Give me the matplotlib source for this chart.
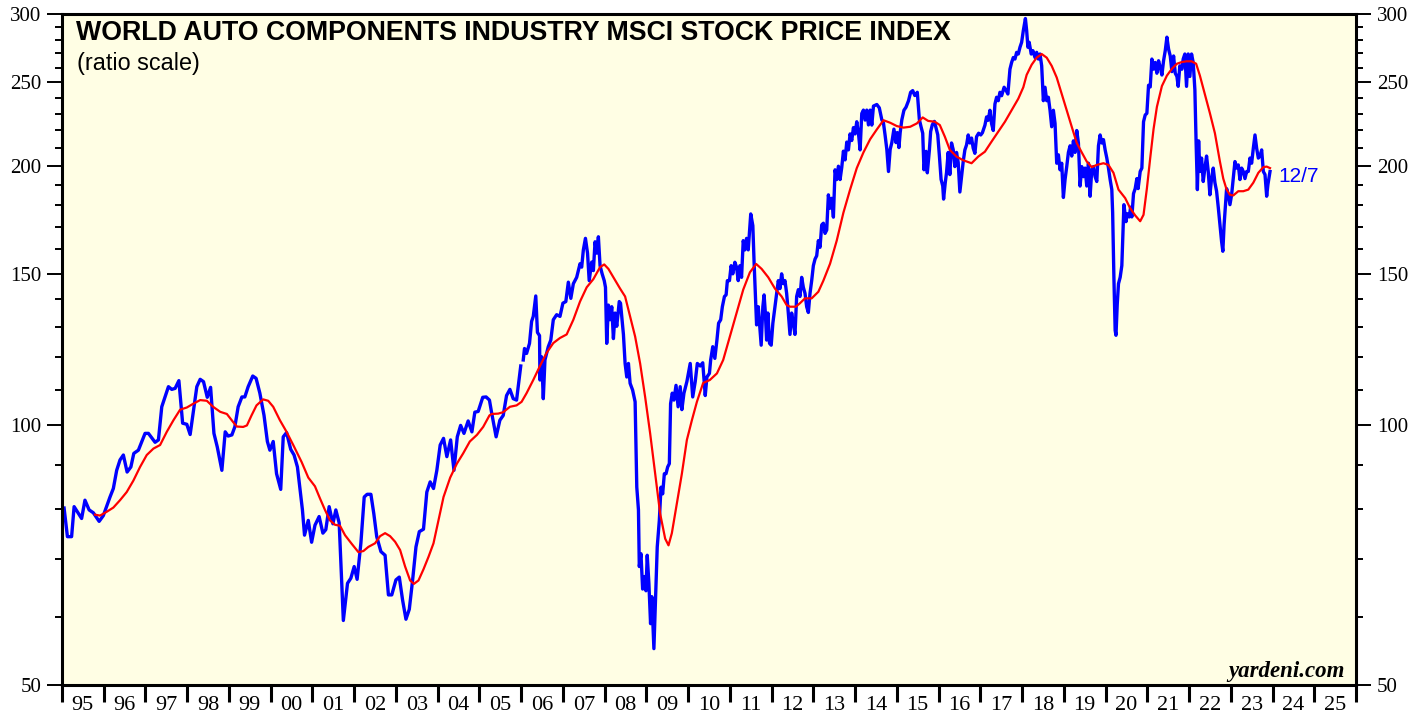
import matplotlib

matplotlib.use("Agg")
import matplotlib.pyplot as plt
import numpy as np
from matplotlib.ticker import FixedLocator, FixedFormatter, NullFormatter

# Indice MSCI (azul): mensual hasta 2005, semanal desde 2006 (hueco en el cambio)
BLUE_T = [
    1995.05, 1995.13, 1995.23, 1995.29, 1995.47, 1995.55, 1995.65, 1995.75, 1995.89, 1995.99,
    1996.15, 1996.23, 1996.31, 1996.39, 1996.47, 1996.56, 1996.65, 1996.72, 1996.83, 1996.99,
    1997.07, 1997.23, 1997.31, 1997.39, 1997.55, 1997.63, 1997.71, 1997.80, 1997.89, 1997.99,
    1998.07, 1998.23, 1998.31, 1998.39, 1998.48, 1998.56, 1998.64, 1998.72, 1998.83, 1998.91,
    1998.98, 1999.07, 1999.14, 1999.22, 1999.31, 1999.38, 1999.46, 1999.57, 1999.65, 1999.74,
    1999.84, 1999.92, 1999.98, 2000.06, 2000.14, 2000.24, 2000.30, 2000.38, 2000.48, 2000.56,
    2000.64, 2000.70, 2000.76, 2000.81, 2000.90, 2000.98, 2001.06, 2001.16, 2001.25, 2001.32,
    2001.40, 2001.49, 2001.56, 2001.64, 2001.74, 2001.84, 2001.92, 2002.00, 2002.07, 2002.16,
    2002.24, 2002.31, 2002.40, 2002.47, 2002.54, 2002.64, 2002.74, 2002.82, 2002.90, 2003.00,
    2003.08, 2003.16, 2003.24, 2003.32, 2003.40, 2003.48, 2003.56, 2003.66, 2003.74, 2003.82,
    2003.90, 2003.98, 2004.06, 2004.14, 2004.22, 2004.31, 2004.39, 2004.47, 2004.55, 2004.63,
    2004.73, 2004.82, 2004.89, 2004.97, 2005.08, 2005.16, 2005.24, 2005.29, 2005.40, 2005.49,
    2005.57, 2005.65, 2005.73, 2005.81, 2005.89, 2005.99, 2006.03,
    2006.05, 2006.08, 2006.13, 2006.20, 2006.25, 2006.29, 2006.35, 2006.39, 2006.44, 2006.45,
    2006.49, 2006.53, 2006.57, 2006.65, 2006.71, 2006.77, 2006.85, 2006.93, 2007.00, 2007.07,
    2007.13, 2007.19, 2007.25, 2007.33, 2007.41, 2007.45, 2007.49, 2007.54, 2007.59, 2007.63,
    2007.69, 2007.73, 2007.77, 2007.81, 2007.85, 2007.89, 2007.94, 2007.99, 2008.02, 2008.05,
    2008.09, 2008.13, 2008.17, 2008.21, 2008.25, 2008.29, 2008.35, 2008.38, 2008.45, 2008.49,
    2008.53, 2008.57, 2008.61, 2008.67, 2008.73, 2008.77, 2008.81, 2008.83, 2008.87, 2008.91,
    2008.95, 2008.99, 2009.02, 2009.06, 2009.10, 2009.13, 2009.18, 2009.22, 2009.26, 2009.31,
    2009.35, 2009.39, 2009.43, 2009.47, 2009.51, 2009.55, 2009.58, 2009.62, 2009.66, 2009.71,
    2009.76, 2009.81, 2009.85, 2009.90, 2009.97, 2010.05, 2010.11, 2010.17, 2010.22, 2010.29,
    2010.35, 2010.41, 2010.45, 2010.51, 2010.54, 2010.59, 2010.64, 2010.69, 2010.73, 2010.78,
    2010.82, 2010.87, 2010.91, 2010.94, 2010.99, 2011.03, 2011.07, 2011.12, 2011.16, 2011.20,
    2011.24, 2011.28, 2011.32, 2011.36, 2011.40, 2011.44, 2011.50, 2011.55, 2011.58, 2011.61,
    2011.64, 2011.68, 2011.72, 2011.75, 2011.79, 2011.82, 2011.85, 2011.88, 2011.91, 2011.95,
    2011.99, 2012.03, 2012.08, 2012.12, 2012.16, 2012.20, 2012.24, 2012.28, 2012.32, 2012.36,
    2012.40, 2012.44, 2012.48, 2012.52, 2012.56, 2012.60, 2012.64, 2012.68, 2012.72, 2012.76,
    2012.80, 2012.84, 2012.88, 2012.92, 2012.96, 2013.00, 2013.04, 2013.08, 2013.12, 2013.16,
    2013.20, 2013.24, 2013.28, 2013.32, 2013.36, 2013.40, 2013.44, 2013.48, 2013.52, 2013.56,
    2013.60, 2013.64, 2013.68, 2013.72, 2013.76, 2013.80, 2013.84, 2013.88, 2013.92, 2013.96,
    2014.00, 2014.04, 2014.08, 2014.12, 2014.16, 2014.20, 2014.24, 2014.28, 2014.32, 2014.36,
    2014.40, 2014.44, 2014.52, 2014.58, 2014.64, 2014.68, 2014.72, 2014.76, 2014.80, 2014.84,
    2014.88, 2014.93, 2014.98, 2015.01, 2015.05, 2015.08, 2015.12, 2015.17, 2015.22, 2015.28,
    2015.33, 2015.38, 2015.43, 2015.49, 2015.54, 2015.58, 2015.62, 2015.65, 2015.70, 2015.73,
    2015.78, 2015.81, 2015.85, 2015.90, 2015.94, 2015.98, 2016.02, 2016.06, 2016.10, 2016.12,
    2016.16, 2016.19, 2016.23, 2016.27, 2016.31, 2016.35, 2016.39, 2016.43, 2016.47, 2016.51,
    2016.56, 2016.59, 2016.63, 2016.67, 2016.71, 2016.75, 2016.79, 2016.83, 2016.87, 2016.91,
    2016.96, 2017.01, 2017.05, 2017.11, 2017.15, 2017.19, 2017.23, 2017.27, 2017.31, 2017.35,
    2017.39, 2017.43, 2017.47, 2017.51, 2017.57, 2017.62, 2017.66, 2017.71, 2017.75, 2017.79,
    2017.83, 2017.87, 2017.91, 2017.95, 2017.99, 2018.03, 2018.08, 2018.11, 2018.14, 2018.17,
    2018.22, 2018.26, 2018.31, 2018.35, 2018.39, 2018.43, 2018.47, 2018.51, 2018.55, 2018.59,
    2018.63, 2018.67, 2018.71, 2018.75, 2018.79, 2018.83, 2018.87, 2018.91, 2018.95, 2018.99,
    2019.03, 2019.07, 2019.11, 2019.15, 2019.19, 2019.23, 2019.27, 2019.31, 2019.35, 2019.39,
    2019.43, 2019.47, 2019.51, 2019.55, 2019.59, 2019.63, 2019.67, 2019.71, 2019.75, 2019.79,
    2019.83, 2019.87, 2019.91, 2019.95, 2019.99, 2020.03, 2020.07, 2020.11, 2020.15, 2020.17,
    2020.20, 2020.23, 2020.25, 2020.28, 2020.31, 2020.35, 2020.39, 2020.44, 2020.49, 2020.52,
    2020.57, 2020.60, 2020.63, 2020.67, 2020.71, 2020.75, 2020.78, 2020.83, 2020.87, 2020.91,
    2020.95, 2020.99, 2021.03, 2021.07, 2021.11, 2021.15, 2021.19, 2021.23, 2021.27, 2021.31,
    2021.35, 2021.39, 2021.43, 2021.47, 2021.51, 2021.55, 2021.59, 2021.63, 2021.67, 2021.71,
    2021.74, 2021.78, 2021.83, 2021.86, 2021.90, 2021.94, 2021.98, 2022.02, 2022.06, 2022.10,
    2022.14, 2022.17, 2022.20, 2022.23, 2022.26, 2022.30, 2022.34, 2022.38, 2022.42, 2022.46,
    2022.50, 2022.54, 2022.58, 2022.62, 2022.66, 2022.70, 2022.74, 2022.78, 2022.81, 2022.84,
    2022.87, 2022.90, 2022.94, 2022.98, 2023.02, 2023.06, 2023.10, 2023.14, 2023.18, 2023.22,
    2023.26, 2023.30, 2023.34, 2023.38, 2023.42, 2023.46, 2023.50, 2023.54, 2023.58, 2023.62,
    2023.66, 2023.70, 2023.74, 2023.78, 2023.82, 2023.86, 2023.89, 2023.94,
]
BLUE_V = [
    80.2, 74.3, 74.3, 80.5, 78.0, 81.9, 79.8, 79.2, 77.4, 78.6,
    82.6, 84.5, 88.7, 91.2, 92.4, 88.3, 89.5, 92.8, 93.6, 97.9,
    97.9, 95.6, 96.2, 105.1, 110.9, 110.1, 110.4, 112.7, 100.6, 100.3,
    97.6, 110.9, 113.1, 112.4, 107.8, 110.7, 97.9, 94.4, 88.7, 98.3,
    97.2, 97.5, 99.6, 105.1, 107.9, 107.9, 110.9, 114.1, 113.4, 109.0,
    102.7, 95.8, 93.6, 95.8, 87.9, 84.3, 97.0, 98.1, 93.8, 92.4,
    89.5, 84.5, 79.8, 74.6, 77.6, 73.2, 76.6, 78.4, 75.0, 75.7,
    80.5, 76.9, 79.8, 77.1, 59.4, 65.6, 66.5, 68.6, 66.3, 73.0,
    82.6, 83.2, 83.2, 79.0, 74.3, 71.4, 70.7, 63.6, 63.6, 66.2,
    66.7, 62.7, 59.6, 61.2, 66.2, 72.3, 75.3, 75.8, 83.7, 86.0,
    84.5, 88.7, 94.9, 96.6, 92.0, 96.2, 88.7, 97.0, 100.0, 97.9,
    101.2, 98.3, 103.6, 103.8, 107.8, 107.9, 107.0, 103.6, 97.0, 101.4,
    102.7, 108.3, 110.1, 107.4, 107.0, 117.2, np.nan,
    119.1, 122.8, 121.2, 124.5, 132.0, 133.8, 141.3, 128.2, 127.1, 112.9,
    120.1, 107.4, 119.1, 123.4, 125.6, 132.6, 134.4, 133.8, 138.6, 139.2,
    146.6, 140.4, 146.0, 148.5, 154.0, 152.6, 159.8, 164.8, 158.4, 147.2,
    154.7, 151.2, 163.3, 158.4, 165.5, 153.2, 149.9, 147.2, 144.6, 124.5,
    137.9, 132.6, 137.3, 126.1, 135.0, 130.3, 139.2, 138.6, 127.5, 118.0,
    113.8, 118.0, 111.9, 109.9, 106.5, 84.8, 79.8, 68.6, 71.0, 64.6,
    66.8, 64.3, 70.7, 65.6, 58.9, 63.3, 55.1, 63.3, 72.3, 77.6,
    84.8, 83.3, 87.9, 87.9, 89.5, 90.3, 106.0, 109.0, 107.0, 111.3,
    105.1, 110.9, 104.3, 109.0, 112.4, 118.0, 107.9, 112.4, 118.0, 117.2,
    118.2, 108.3, 113.8, 114.9, 119.1, 123.4, 119.6, 125.6, 131.4, 132.6,
    137.3, 141.1, 141.7, 147.2, 147.2, 153.2, 149.9, 154.6, 152.6, 147.2,
    153.2, 148.5, 163.8, 159.8, 164.8, 159.8, 175.9, 170.5, 154.7, 142.3,
    130.8, 137.3, 129.6, 123.9, 137.3, 141.7, 135.0, 125.6, 135.0, 124.5,
    123.9, 131.4, 137.3, 142.3, 147.2, 144.1, 149.9, 146.0, 147.2, 142.3,
    135.0, 127.5, 135.0, 131.4, 127.5, 141.1, 143.7, 141.1, 148.5, 144.6,
    142.3, 137.3, 135.2, 142.3, 147.2, 153.2, 155.9, 157.3, 163.8, 160.9,
    170.8, 171.6, 167.0, 168.5, 185.1, 178.6, 183.4, 174.4, 197.9, 192.8,
    199.8, 192.8, 199.1, 208.0, 203.2, 213.1, 208.7, 217.8, 214.0, 221.5,
    217.8, 225.0, 218.2, 208.7, 230.0, 232.1, 226.0, 232.1, 223.1, 232.1,
    223.0, 234.6, 235.6, 233.5, 226.2, 224.2, 216.8, 209.0, 197.0, 209.0,
    212.8, 220.6, 212.8, 218.6, 210.0, 218.6, 226.2, 232.0, 233.9, 238.0,
    243.4, 244.5, 241.3, 243.4, 226.2, 222.0, 218.2, 197.9, 207.9, 196.3,
    208.7, 219.2, 223.2, 225.2, 221.3, 217.3, 205.3, 192.9, 189.5, 183.0,
    191.2, 196.3, 207.3, 195.4, 212.6, 208.9, 199.6, 207.3, 201.8, 186.5,
    196.3, 202.3, 208.7, 211.5, 217.2, 212.6, 215.4, 209.6, 206.8, 216.2,
    218.2, 217.2, 218.5, 222.9, 227.9, 225.9, 232.0, 223.8, 219.8, 235.9,
    240.2, 238.0, 243.4, 241.2, 246.7, 244.5, 242.3, 258.9, 263.6, 267.1,
    266.0, 270.8, 269.6, 274.5, 278.2, 287.0, 296.4, 287.0, 274.5, 278.2,
    269.6, 272.0, 267.1, 270.8, 266.0, 269.6, 261.2, 238.0, 246.7, 238.0,
    240.2, 232.0, 222.0, 232.0, 224.0, 201.4, 206.0, 197.9, 201.4, 183.8,
    192.8, 199.6, 207.3, 211.0, 205.3, 213.8, 207.3, 219.8, 212.6, 189.5,
    199.6, 194.3, 198.8, 189.5, 201.4, 184.4, 197.9, 199.6, 194.3, 191.8,
    211.0, 217.2, 212.6, 214.5, 208.7, 204.2, 198.8, 192.8, 187.7, 176.5,
    148.5, 128.9, 127.2, 138.2, 146.0, 148.5, 153.2, 180.3, 172.3, 176.0,
    174.5, 179.1, 174.5, 185.7, 188.2, 193.3, 188.2, 197.0, 198.8, 225.0,
    229.1, 230.1, 248.0, 246.9, 266.0, 258.9, 263.6, 256.1, 264.8, 260.2,
    254.9, 264.8, 272.0, 282.0, 273.1, 268.2, 257.2, 268.2, 256.1, 253.9,
    247.3, 261.2, 258.9, 266.0, 269.6, 247.3, 269.6, 253.9, 269.6, 263.6,
    245.0, 212.4, 187.7, 213.8, 197.0, 204.2, 191.8, 198.8, 205.3, 197.0,
    185.1, 193.3, 198.8, 191.2, 186.9, 179.1, 170.8, 163.4, 159.2, 170.8,
    179.1, 188.2, 185.1, 180.3, 185.1, 193.3, 202.3, 198.8, 200.5, 192.8,
    198.8, 197.0, 193.3, 197.0, 197.0, 204.2, 201.4, 209.6, 217.2, 209.6,
    204.2, 205.3, 208.7, 197.0, 195.4, 184.4, 190.3, 197.0,
]

# Media movil (rojo)
RED_T = [
    1995.79, 1995.91, 1996.07, 1996.23, 1996.39, 1996.55, 1996.71, 1996.87, 1997.03, 1997.19,
    1997.35, 1997.51, 1997.67, 1997.83, 1997.99, 1998.15, 1998.31, 1998.47, 1998.62, 1998.79,
    1998.95, 1999.10, 1999.19, 1999.34, 1999.43, 1999.54, 1999.66, 1999.82, 1999.94, 2000.06,
    2000.22, 2000.38, 2000.54, 2000.74, 2000.90, 2001.06, 2001.18, 2001.30, 2001.42, 2001.54,
    2001.66, 2001.78, 2001.94, 2002.10, 2002.22, 2002.34, 2002.50, 2002.62, 2002.74, 2002.86,
    2002.98, 2003.10, 2003.22, 2003.34, 2003.43, 2003.54, 2003.66, 2003.78, 2003.90, 2004.02,
    2004.14, 2004.30, 2004.46, 2004.61, 2004.77, 2004.94, 2005.09, 2005.24, 2005.29, 2005.45,
    2005.57, 2005.73, 2005.89, 2006.01, 2006.13, 2006.29, 2006.45, 2006.61, 2006.77, 2006.93,
    2007.09, 2007.25, 2007.41, 2007.57, 2007.73, 2007.89, 2007.99, 2008.09, 2008.21, 2008.37,
    2008.49, 2008.61, 2008.73, 2008.85, 2008.97, 2009.09, 2009.21, 2009.33, 2009.45, 2009.53,
    2009.61, 2009.73, 2009.85, 2009.97, 2010.09, 2010.21, 2010.36, 2010.52, 2010.69, 2010.84,
    2011.00, 2011.16, 2011.32, 2011.48, 2011.63, 2011.76, 2011.92, 2012.08, 2012.24, 2012.36,
    2012.44, 2012.58, 2012.68, 2012.80, 2012.96, 2013.12, 2013.24, 2013.40, 2013.56, 2013.72,
    2013.88, 2014.04, 2014.20, 2014.36, 2014.52, 2014.68, 2014.84, 2015.00, 2015.16, 2015.32,
    2015.48, 2015.62, 2015.75, 2015.91, 2016.03, 2016.15, 2016.27, 2016.43, 2016.59, 2016.79,
    2016.95, 2017.11, 2017.27, 2017.43, 2017.59, 2017.75, 2017.91, 2018.03, 2018.11, 2018.23,
    2018.35, 2018.47, 2018.59, 2018.71, 2018.83, 2018.95, 2019.07, 2019.19, 2019.31, 2019.43,
    2019.55, 2019.67, 2019.79, 2019.95, 2020.07, 2020.19, 2020.31, 2020.47, 2020.59, 2020.71,
    2020.83, 2020.91, 2020.99, 2021.07, 2021.15, 2021.23, 2021.35, 2021.47, 2021.59, 2021.71,
    2021.83, 2021.94, 2022.06, 2022.17, 2022.26, 2022.38, 2022.50, 2022.62, 2022.74, 2022.82,
    2022.90, 2022.98, 2023.06, 2023.18, 2023.30, 2023.42, 2023.54, 2023.66, 2023.78, 2023.86,
    2023.94,
]
RED_V = [
    78.8, 78.6, 79.4, 80.3, 81.9, 83.7, 86.3, 89.5, 92.4, 94.0,
    94.9, 98.3, 101.4, 104.3, 104.9, 106.0, 107.0, 106.8, 105.1, 103.7,
    103.1, 100.9, 99.7, 99.6, 100.0, 102.7, 105.5, 107.2, 106.8, 105.1,
    101.4, 98.3, 94.9, 90.7, 87.0, 85.0, 82.3, 79.8, 77.6, 76.7,
    76.5, 74.6, 72.9, 71.3, 71.5, 72.3, 73.0, 74.4, 75.0, 74.4,
    73.3, 71.7, 68.6, 66.1, 65.5, 66.1, 68.1, 70.4, 73.0, 77.6,
    82.6, 87.0, 90.3, 92.8, 95.8, 97.5, 99.6, 102.7, 103.1, 103.2,
    103.6, 105.1, 105.5, 106.5, 109.0, 112.9, 117.2, 121.4, 124.6, 126.3,
    127.5, 132.6, 139.2, 144.6, 147.8, 152.6, 153.7, 151.9, 148.5, 144.1,
    141.1, 133.8, 126.8, 118.0, 107.9, 97.9, 87.9, 79.0, 73.9, 72.6,
    75.0, 81.2, 87.9, 96.2, 101.4, 106.5, 112.0, 112.9, 114.9, 119.1,
    126.8, 135.0, 143.7, 150.5, 153.9, 151.9, 148.5, 144.1, 141.1, 137.9,
    137.3, 137.3, 138.6, 140.4, 140.4, 142.9, 147.2, 154.0, 163.8, 176.5,
    187.7, 198.8, 207.3, 214.7, 220.4, 225.9, 224.4, 222.4, 221.5, 222.0,
    224.0, 227.6, 225.5, 225.0, 223.0, 216.2, 208.7, 205.0, 203.0, 201.4,
    205.0, 207.7, 213.4, 219.1, 225.0, 232.0, 239.3, 246.7, 255.0, 262.0,
    267.0, 269.6, 267.0, 261.2, 253.2, 242.3, 232.0, 222.0, 212.6, 207.3,
    202.3, 199.3, 200.5, 201.4, 200.5, 196.3, 187.7, 183.5, 178.6, 175.2,
    172.5, 175.5, 188.2, 204.2, 220.6, 234.1, 247.5, 254.5, 259.2, 262.7,
    263.9, 264.4, 264.4, 262.7, 254.5, 242.0, 230.2, 218.2, 202.3, 193.3,
    187.7, 185.1, 184.8, 186.9, 186.9, 187.7, 191.2, 196.3, 199.3, 199.6,
    198.8,
]

YEARS = list(range(1995, 2026))
Y_MAJOR = [50, 100, 150, 200, 250, 300]
Y_MINOR = [60, 70, 80, 90, 110, 120, 130, 140, 160, 170, 180, 190,
           210, 220, 230, 240, 260, 270, 280, 290]
LAST_DATE = "12/7"

BG = "#FFFEE4"

fig = plt.figure(figsize=(14.27, 7.17), dpi=100)
ax = fig.add_axes([62 / 1427, 1 - 685 / 717, 1294 / 1427, 671 / 717])
ax.set_facecolor(BG)

ax.plot(RED_T, RED_V, color="#FF0000", lw=1.6, zorder=3)
ax.plot(BLUE_T, BLUE_V, color="#0000FF", lw=2.4, zorder=2)

ax.set_yscale("log")
ax.set_ylim(50, 300)
ax.set_xlim(YEARS[0], YEARS[-1] + 1)

ax.yaxis.set_major_locator(FixedLocator(Y_MAJOR))
ax.yaxis.set_major_formatter(FixedFormatter([str(v) for v in Y_MAJOR]))
ax.yaxis.set_minor_locator(FixedLocator(Y_MINOR))
ax.yaxis.set_minor_formatter(NullFormatter())

ax.xaxis.set_major_locator(FixedLocator(YEARS + [YEARS[-1] + 1]))
ax.xaxis.set_major_formatter(NullFormatter())
ax.xaxis.set_minor_locator(FixedLocator([y + 0.5 for y in YEARS]))
ax.xaxis.set_minor_formatter(FixedFormatter([f"{y % 100:02d}" for y in YEARS]))

serif = "Liberation Serif"
ax.tick_params(axis="y", which="major", left=True, right=True, labelleft=True,
               labelright=True, direction="out", length=11, width=1.4, pad=4,
               labelsize=15, labelfontfamily=serif)
ax.tick_params(axis="y", which="minor", left=True, right=True, direction="out",
               length=5, width=1.4)
ax.tick_params(axis="x", which="major", direction="out", length=12, width=2.2)
ax.tick_params(axis="x", which="minor", length=0, pad=8, labelsize=16,
               labelfontfamily=serif)

for s in ax.spines.values():
    s.set_linewidth(2.2)
    s.set_color("black")

ax.text(0.0112, 0.9613, "WORLD AUTO COMPONENTS INDUSTRY MSCI STOCK PRICE INDEX",
        transform=ax.transAxes, fontsize=19.3, fontweight="bold",
        family="Liberation Sans", va="baseline", ha="left")
ax.text(0.0116, 0.9165, "(ratio scale)", transform=ax.transAxes, fontsize=16.8,
        family="Liberation Sans", va="baseline", ha="left")
ax.text(0.9915, 0.0124, "yardeni.com", transform=ax.transAxes, fontsize=16.5,
        family=serif, fontweight="bold", style="italic", va="baseline", ha="right")
ax.text(2024.13, 191.6, LAST_DATE, color="#0000FF", fontsize=15,
        family="Liberation Sans", va="baseline", ha="left")

fig.savefig("out.png", dpi=100, facecolor="white")
